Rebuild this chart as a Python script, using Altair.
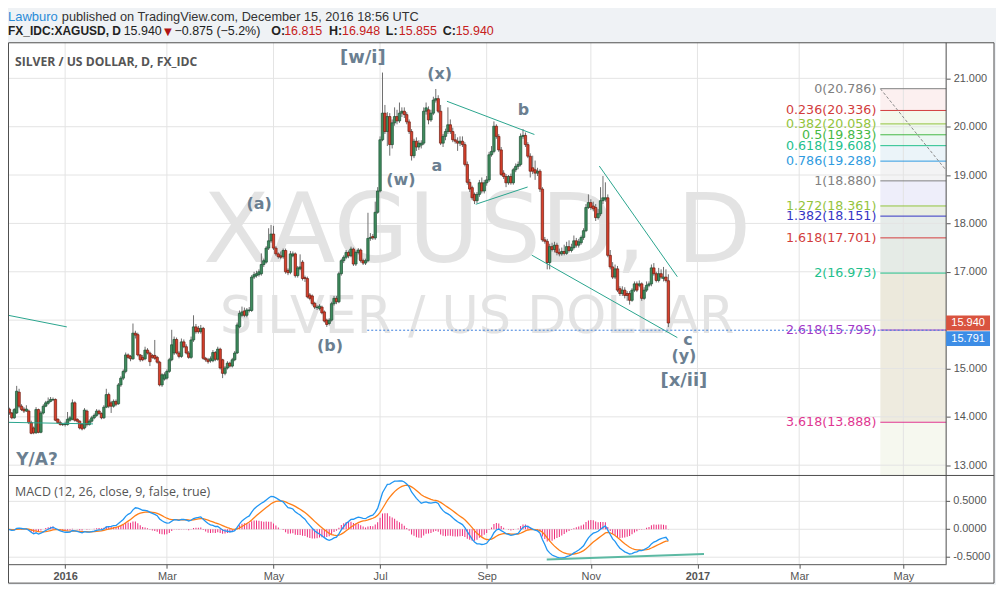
import altair as alt
import pandas as pd

# ---------------- data ----------------
START_INDEX = -24  # bar index of first candle (0 = first trading day of 2016)

opens = [14.07,14.16,14.08,13.98,14.08,14.51,14.22,14.16,14.12,14.12,
         13.88,13.77,13.67,14.15,13.68,14.08,14.22,14.28,14.32,14.35,
         14.36,13.95,13.88,13.84,13.84,13.84,13.93,13.95,14.29,13.95,
         13.91,13.84,13.77,14.12,13.84,13.91,13.98,14.03,14.12,14.07,
         13.98,14.20,14.46,14.29,14.22,14.32,14.27,14.66,14.80,14.94,
         15.28,15.25,15.20,15.73,15.70,15.28,15.23,15.20,15.38,15.32,
         15.27,15.27,15.23,15.13,14.66,14.78,14.80,14.94,15.18,15.32,
         15.60,15.32,15.25,15.55,15.45,15.32,15.23,15.59,15.86,15.83,
         15.76,15.83,15.21,15.18,15.16,15.16,15.33,15.19,15.40,15.18,
         14.90,15.01,15.11,15.05,15.18,15.32,15.86,16.10,16.19,16.10,
         16.20,16.20,16.89,16.92,16.94,16.96,17.15,17.20,17.49,17.64,
         17.78,17.49,17.37,17.33,17.31,17.44,17.03,16.99,17.33,17.37,
         16.92,17.06,17.20,16.88,16.86,16.52,16.50,16.35,16.26,16.24,
         16.27,16.17,16.00,15.93,16.00,16.34,16.45,16.38,16.96,17.23,
         17.30,17.40,17.33,17.47,17.16,17.40,17.45,17.23,17.18,17.23,
         17.69,17.73,17.70,18.23,18.67,19.73,20.28,19.90,20.21,19.63,
         20.08,20.21,20.12,20.28,20.32,20.25,20.10,19.90,19.40,19.70,
         19.58,19.62,19.66,20.32,20.35,20.14,20.28,20.55,20.58,20.32,
         19.66,19.80,19.90,20.04,19.90,19.73,19.70,19.66,19.70,19.63,
         19.22,18.85,18.74,18.60,18.47,18.60,18.84,18.67,18.84,18.90,
         19.42,19.49,20.01,19.80,19.52,19.04,18.97,18.84,18.97,18.84,
         19.11,19.18,19.22,19.80,19.82,19.63,19.39,19.15,19.11,19.04,
         19.08,18.71,17.66,17.63,17.19,17.52,17.46,17.55,17.40,17.37,
         17.42,17.38,17.52,17.44,17.50,17.64,17.55,17.60,17.71,17.85,
         18.33,18.43,18.36,18.33,18.12,18.20,18.47,18.50,18.53,17.34,
         17.10,16.89,17.06,16.65,16.55,16.62,16.55,16.55,16.41,16.62,
         16.75,16.72,16.75,16.45,16.62,16.72,16.75,17.08,16.96,16.82,
         16.96,16.86,16.89,16.815]
highs = [14.22,14.19,14.10,14.18,14.64,14.58,14.26,14.20,14.24,14.15,
         13.92,13.80,14.20,14.17,14.12,14.26,14.33,14.40,14.41,14.40,
         14.38,13.97,13.92,13.87,13.90,14.10,14.02,14.36,14.32,13.97,
         13.93,13.87,14.18,14.15,13.95,14.02,14.07,14.16,14.15,14.09,
         14.24,14.58,14.50,14.33,14.36,14.36,14.70,14.84,14.98,15.33,
         15.31,15.28,15.93,15.78,15.74,15.30,15.28,15.45,15.42,15.35,
         15.30,15.59,15.26,15.16,14.90,14.92,14.98,15.22,15.80,15.66,
         15.64,15.36,15.62,15.60,15.50,15.36,15.66,16.10,15.92,15.88,
         15.90,15.86,15.24,15.22,15.25,15.38,15.36,15.45,15.43,15.20,
         15.05,15.15,15.14,15.22,15.36,15.95,16.20,16.28,16.26,16.25,
         16.27,16.93,17.00,17.02,17.05,17.38,17.27,17.53,17.90,17.97,
         17.95,17.53,17.40,17.42,17.48,17.48,17.07,17.43,17.42,17.40,
         17.12,17.36,17.24,16.92,16.90,16.56,16.53,16.38,16.31,16.33,
         16.30,16.20,16.03,16.04,16.38,16.50,16.50,17.00,17.27,17.34,
         17.45,17.44,17.52,17.50,17.44,17.49,17.48,17.27,17.27,18.22,
         17.80,17.78,18.45,18.75,19.80,21.12,20.45,20.30,20.28,20.15,
         20.40,20.35,20.50,20.40,20.40,20.30,20.15,19.95,19.75,19.78,
         19.72,19.72,20.40,20.50,20.42,20.35,20.62,20.78,20.65,20.45,
         19.85,19.96,20.40,20.15,19.98,19.85,19.78,19.80,19.80,19.68,
         19.28,18.92,18.78,18.64,18.65,18.90,18.95,18.90,18.98,19.48,
         19.60,20.11,20.05,19.85,19.58,19.10,19.02,19.00,19.03,19.15,
         19.24,19.28,19.86,19.95,19.88,19.68,19.45,19.40,19.30,19.15,
         19.12,18.75,17.72,17.68,17.58,17.60,17.62,17.60,17.48,17.50,
         17.56,17.62,17.65,17.58,17.75,17.70,17.68,17.75,17.90,18.40,
         18.60,18.50,18.45,18.40,18.30,18.75,18.98,18.85,18.60,17.45,
         17.20,17.15,17.12,16.70,16.70,16.68,16.60,16.60,16.66,16.80,
         16.80,16.82,16.78,16.68,16.80,16.80,17.15,17.18,17.00,17.08,
         17.05,17.10,17.05,16.948]
lows = [14.03,14.04,13.95,13.96,14.06,14.18,14.12,14.08,14.10,13.85,
        13.64,13.64,13.65,13.66,13.66,14.05,14.20,14.25,14.30,14.33,
        13.91,13.86,13.82,13.81,13.80,13.82,13.90,13.93,13.90,13.88,
        13.74,13.72,13.74,13.80,13.82,13.88,13.95,14.00,14.04,13.95,
        13.96,14.18,14.18,14.08,14.19,14.22,14.25,14.62,14.76,14.90,
        15.20,15.15,15.18,15.62,15.25,15.14,15.15,15.17,15.29,15.05,
        15.20,15.18,15.10,14.63,14.62,14.75,14.77,14.91,15.15,15.28,
        15.29,15.21,15.22,15.42,15.29,15.20,15.20,15.55,15.72,15.72,
        15.72,15.18,15.14,15.10,15.12,15.13,15.15,15.16,14.98,14.80,
        14.86,14.98,15.02,15.02,15.15,15.30,15.83,16.07,16.06,16.06,
        16.16,16.17,16.85,16.88,16.90,16.92,17.10,17.17,17.45,17.60,
        17.45,17.33,17.27,17.26,17.27,16.96,16.93,16.95,17.30,16.88,
        16.88,17.03,16.82,16.79,16.45,16.41,16.30,16.23,16.21,16.20,
        16.12,15.95,15.86,15.89,15.97,16.30,16.33,16.35,16.92,17.18,
        17.26,17.28,17.30,17.12,17.12,17.36,17.19,17.14,17.14,17.20,
        17.64,17.66,17.66,18.20,18.64,19.70,19.85,19.60,19.40,19.55,
        20.02,20.05,20.08,20.20,20.18,20.05,19.85,19.30,19.35,19.50,
        19.52,19.55,19.62,20.25,20.05,20.10,20.24,20.50,20.28,19.62,
        19.58,19.72,19.85,19.85,19.68,19.65,19.50,19.60,19.58,19.18,
        18.80,18.65,18.48,18.40,18.42,18.55,18.62,18.62,18.78,18.86,
        19.38,19.45,19.75,19.48,18.98,18.92,18.75,18.80,18.80,18.80,
        19.06,19.12,19.18,19.75,19.58,19.35,18.95,19.02,18.90,18.98,
        18.65,17.62,17.58,17.05,17.05,17.42,17.40,17.34,17.32,17.33,
        17.34,17.35,17.40,17.40,17.46,17.50,17.50,17.56,17.66,17.82,
        18.30,18.28,18.25,18.05,18.08,18.15,18.40,18.45,17.30,17.05,
        16.85,16.85,16.58,16.50,16.50,16.45,16.40,16.32,16.38,16.58,
        16.58,16.68,16.40,16.42,16.58,16.68,16.70,16.92,16.78,16.78,
        16.85,16.80,16.78,15.855]
closes = [14.16,14.08,13.98,14.15,14.53,14.22,14.15,14.12,14.16,13.88,
          13.66,13.67,14.15,13.68,14.08,14.22,14.29,14.32,14.36,14.36,
          13.93,13.88,13.84,13.84,13.85,13.95,13.98,14.29,13.93,13.91,
          13.77,13.75,14.14,13.84,13.91,13.98,14.03,14.12,14.07,13.98,
          14.20,14.46,14.22,14.22,14.32,14.26,14.66,14.80,14.94,15.28,
          15.23,15.20,15.73,15.69,15.28,15.18,15.18,15.38,15.32,15.14,
          15.23,15.21,15.13,14.66,14.87,14.87,14.94,15.18,15.49,15.60,
          15.32,15.25,15.55,15.45,15.32,15.23,15.59,15.86,15.76,15.76,
          15.83,15.21,15.18,15.14,15.20,15.33,15.19,15.40,15.01,14.90,
          15.01,15.11,15.05,15.18,15.32,15.90,16.14,16.17,16.10,16.21,
          16.21,16.89,16.94,16.96,17.00,17.15,17.23,17.49,17.64,17.78,
          17.49,17.37,17.31,17.30,17.44,17.00,16.98,17.37,17.37,16.92,
          17.08,17.10,16.86,16.86,16.48,16.45,16.34,16.27,16.27,16.29,
          16.15,15.98,15.91,16.00,16.34,16.45,16.38,16.96,17.23,17.30,
          17.40,17.33,17.47,17.16,17.40,17.45,17.23,17.18,17.23,17.69,
          17.71,17.70,18.23,18.67,19.73,20.28,19.90,20.21,19.63,20.08,
          20.21,20.12,20.28,20.32,20.25,20.10,19.90,19.40,19.70,19.58,
          19.66,19.66,20.32,20.39,20.14,20.28,20.55,20.58,20.32,19.66,
          19.80,19.90,20.04,19.90,19.73,19.70,19.66,19.70,19.63,19.22,
          18.85,18.71,18.53,18.47,18.60,18.84,18.67,18.84,18.90,19.42,
          19.49,20.01,19.80,19.52,19.01,18.97,18.84,18.97,18.84,19.11,
          19.18,19.22,19.80,19.82,19.63,19.39,19.08,19.08,19.04,19.08,
          18.71,17.66,17.63,17.19,17.52,17.46,17.55,17.40,17.37,17.42,
          17.38,17.52,17.44,17.50,17.64,17.55,17.62,17.71,17.85,18.33,
          18.43,18.33,18.30,18.12,18.20,18.47,18.53,18.53,17.34,17.10,
          16.89,17.06,16.62,16.55,16.62,16.51,16.51,16.41,16.62,16.75,
          16.62,16.75,16.45,16.62,16.72,16.75,17.08,16.96,16.82,16.96,
          16.89,16.89,16.82,15.940]

# time axis (bar index of each month start) and labels
month_ticks = [0, 42, 86, 130, 174, 217, 261, 303, 346]
month_labels = ["2016", "Mar", "May", "Jul", "Sep", "Nov", "2017", "Mar", "May"]

price_ticks = [13, 14, 15, 17, 18, 19, 20, 21]
price_grid = [13, 14, 15, 16, 17, 18, 19, 20, 21]
macd_ticks = [0.5, 0.0, -0.5]
macd_tick_labels = ["0.5000", "0.0000", "-0.5000"]

# fibonacci extension tool
fib_ratios = ["0", "0.236", "0.382", "0.5", "0.618", "0.786", "1",
              "1.272", "1.382", "1.618", "2", "2.618", "3.618"]
fib_values = [20.786, 20.336, 20.058, 19.833, 19.608, 19.288, 18.880,
              18.361, 18.151, 17.701, 16.973, 15.795, 13.888]
fib_colors = ["#808080", "#d23c3c", "#93c43c", "#45b845", "#22c08c", "#2f9be0", "#808080",
              "#93c43c", "#3434c4", "#d23c3c", "#22c08c", "#a338c8", "#e03590"]
fib_fills = ["#fcf0f0", "#f4f8ec", "#eef8ee", "#ebf7f3", "#ebf4f9", "#f3f3f4", "#eeeefa",
             "#e9eee3", "#e6ecea", "#e5ebe6", "#ece9dc", "#eeebdf", "#f6f8ef"]
fib_x = [336.5, 363.66]
fib_diag_i = [336.5, 363.66]
fib_diag_p = [20.786, 19.097]

# trend lines (bar index, price)
trend_seg = ["l1", "l1", "l2", "l2", "t1", "t1", "t2", "t2", "w1", "w1", "w2", "w2"]
trend_i = [-24.5, 0.7, -24.5, 11.5, 157.6, 193.7, 169.5, 190.9, 220.5, 252.7, 192.6, 252.7]
trend_p = [16.11, 15.86, 13.887, 13.854, 20.526, 19.839, 18.396, 18.753, 19.186, 16.897, 17.344, 15.639]
macd_trend_i = [198.8, 263.7]
macd_trend_v = [-0.541, -0.441]

hline_value = 15.791
hline_i = [124.7, 363.66]

# wave labels
wave_text = ["[w/i]", "(x)", "b", "a", "(w)", "(a)", "(b)", "c", "(y)", "[x/ii]", "Y/A?"]
wave_i = [122.9, 154.6, 189.2, 153.4, 138.6, 80.1, 109.3, 257.1, 255.4, 255.4, -11.6]
wave_p = [21.43, 21.10, 20.355, 19.18, 18.89, 18.40, 15.468, 15.59, 15.262, 14.746, 13.097]
wave_size = [18, 16, 16, 16, 16, 16, 16, 16, 16, 18, 17]

# ---------------- frames ----------------
n = len(closes)
df = pd.DataFrame({"i": list(range(START_INDEX, START_INDEX + n)),
                   "o": opens, "h": highs, "l": lows, "c": closes})
df["up"] = df["c"] >= df["o"]
df["top"] = df[["o", "c"]].max(axis=1)
df["bot"] = df[["o", "c"]].min(axis=1)
ema12 = df["c"].ewm(span=12, adjust=False).mean()
ema26 = df["c"].ewm(span=26, adjust=False).mean()
df["macd"] = ema12 - ema26
df["sig"] = df["macd"].ewm(span=9, adjust=False).mean()
df["hist"] = df["macd"] - df["sig"]

W, H = 941, 557
XS = alt.Scale(domain=[-23.58, 363.66], range=[0, W], nice=False, zero=False, padding=0)
P_DOM = [12.798, 21.742]
PS = alt.Scale(domain=P_DOM, range=[467.5, 33.7], nice=False, zero=False, padding=0)
MS = alt.Scale(domain=[-0.625, 0.955], range=[557, 468.5], nice=False, zero=False, padding=0)

lab_expr = "".join([f"datum.value == {t} ? '{l}' : " for t, l in zip(month_ticks, month_labels)]) + "''"
XAXIS = alt.Axis(values=month_ticks, labelExpr=lab_expr, orient="bottom",
                 labelFont="Liberation Sans", labelFontSize=11, labelColor="#555555",
                 labelFontWeight={"condition": {"test": "datum.value == 0 || datum.value == 261",
                                                "value": "bold"}, "value": "normal"},
                 tickColor="#555555", tickSize=4, labelPadding=2, domainColor="#555555",
                 grid=False, zindex=1, title=None)


def X(f):
    return alt.X(f, type="quantitative", scale=XS, axis=XAXIS)


def P(f):
    return alt.Y(f, type="quantitative", scale=PS, axis=None)


def M(f):
    return alt.Y(f, type="quantitative", scale=MS, axis=None)


def txt(s, x, y, size=12, color="#333333", weight="normal", font="Liberation Sans",
        align="left", baseline="alphabetic"):
    return alt.Chart(pd.DataFrame({"t": [s]})).mark_text(
        align=align, baseline=baseline, fontSize=size, font=font,
        fontWeight=weight, color=color
    ).encode(x=alt.value(x), y=alt.value(y), text="t:N")


one = pd.DataFrame({"k": [0]})
layers = []

# panel background
layers.append(alt.Chart(one).mark_rect(fill="white").encode(
    x=alt.value(0), x2=alt.value(989), y=alt.value(33.7), y2=alt.value(576)))

# fib fills
fill_df = pd.DataFrame({
    "x0": [fib_x[0]] * len(fib_values), "x1": [fib_x[1]] * len(fib_values),
    "top": fib_values, "bot": fib_values[1:] + [P_DOM[0]], "col": fib_fills})
layers.append(alt.Chart(fill_df).mark_rect().encode(
    x=X("x0"), x2="x1", y=P("top"), y2="bot",
    color=alt.Color("col:N", scale=None)))

# grid lines
vgrid = pd.DataFrame({"i": month_ticks})
layers.append(alt.Chart(vgrid).mark_rule(color="#e4e4e4", strokeWidth=1).encode(
    x=X("i"), y=alt.value(34), y2=alt.value(557)))
pgrid = pd.DataFrame({"p": price_grid})
layers.append(alt.Chart(pgrid).mark_rule(color="#e4e4e4", strokeWidth=1).encode(
    y=alt.Y("p", type="quantitative", scale=PS, title=None,
            axis=alt.Axis(orient="right", values=price_ticks, format=".3f",
                          labelFont="Liberation Sans", labelFontSize=11, labelColor="#555555",
                          tickColor="#555555", tickSize=4, labelPadding=3, domain=False,
                          grid=False, zindex=1)),
    x=alt.value(0), x2=alt.value(W)))
mgrid = pd.DataFrame({"v": macd_ticks, "t": macd_tick_labels})
layers.append(alt.Chart(mgrid).mark_rule(color="#e4e4e4", strokeWidth=1).encode(
    y=M("v"), x=alt.value(0), x2=alt.value(W)))

# watermark
layers.append(txt("XAGUSD, D", 470.5, 253.7, size=97, color="#e3e3e3", font="DejaVu Sans", align="center"))
layers.append(txt("SILVER / US DOLLAR", 470.5, 325.3, size=51, color="#e3e3e3", font="DejaVu Sans", align="center"))

# MACD
layers.append(alt.Chart(df).mark_bar(size=1, color="#ee2a7b").encode(
    x=X("i"), y=M("hist"), y2=alt.datum(0)))
layers.append(alt.Chart(df).mark_line(color="#ff7f17", strokeWidth=1.3).encode(x=X("i"), y=M("sig")))
layers.append(alt.Chart(df).mark_line(color="#2196f3", strokeWidth=1.3).encode(x=X("i"), y=M("macd")))
mt = pd.DataFrame({"i": macd_trend_i, "v": macd_trend_v})
layers.append(alt.Chart(mt).mark_line(color="#5cb9a3", strokeWidth=2).encode(x=X("i"), y=M("v")))

# candles
layers.append(alt.Chart(df).mark_rule(color="#6e6e6e", strokeWidth=1).encode(
    x=X("i"), y=P("l"), y2="h"))
layers.append(alt.Chart(df).mark_bar(size=2.4, strokeWidth=0.7).encode(
    x=X("i"), y=P("bot"), y2="top",
    fill=alt.condition("datum.up", alt.value("#3f8c5e"), alt.value("#d8402c")),
    stroke=alt.condition("datum.up", alt.value("#1c4f32"), alt.value("#6e1d12"))))

# trend lines
tl = pd.DataFrame({"seg": trend_seg, "i": trend_i, "p": trend_p})
layers.append(alt.Chart(tl).mark_line(color="#2aa58e", strokeWidth=1).encode(
    x=X("i"), y=P("p"), detail="seg:N"))

# fib lines & labels
fl = pd.DataFrame({"x0": [fib_x[0]] * len(fib_values), "x1": [fib_x[1]] * len(fib_values),
                   "v": fib_values, "col": fib_colors,
                   "lab": [f"{r}({v:.3f})" for r, v in zip(fib_ratios, fib_values)]})
layers.append(alt.Chart(fl).mark_rule(strokeWidth=1).encode(
    x=X("x0"), x2="x1", y=P("v"), color=alt.Color("col:N", scale=None)))
layers.append(alt.Chart(fl).mark_text(align="right", baseline="middle", dx=-4, fontSize=12.7,
                                      font="DejaVu Sans").encode(
    x=X("x0"), y=P("v"), text="lab:N", color=alt.Color("col:N", scale=None)))
fd = pd.DataFrame({"i": fib_diag_i, "p": fib_diag_p})
layers.append(alt.Chart(fd).mark_line(color="#8a8a8a", strokeWidth=1, strokeDash=[3, 2]).encode(
    x=X("i"), y=P("p")))

# horizontal dotted line
hl = pd.DataFrame({"i": hline_i, "p": [hline_value, hline_value]})
layers.append(alt.Chart(hl).mark_line(color="#3b7ddd", strokeWidth=1, strokeDash=[2, 2]).encode(
    x=X("i"), y=P("p")))

# wave labels
wl = pd.DataFrame({"t": wave_text, "i": wave_i, "p": wave_p, "s": wave_size})
layers.append(alt.Chart(wl).mark_text(font="DejaVu Sans", fontWeight="bold", color="#6b7f91",
                                      baseline="middle", align="center").encode(
    x=X("i"), y=P("p"), text="t:N", size=alt.Size("s:Q", scale=None)))

# frame lines
layers.append(alt.Chart(one).mark_rule(color="#4d4d4d", strokeWidth=1).encode(
    x=alt.value(941), y=alt.value(34), y2=alt.value(557)))
layers.append(alt.Chart(one).mark_rule(color="#4d4d4d", strokeWidth=1).encode(
    x=alt.value(0), x2=alt.value(989), y=alt.value(468)))

# last price / line price boxes on the axis
box_shape = "M-1,-0.341L1,-0.341L1,0.341L-1,0.341Z"
bx = pd.DataFrame({"p": [closes[-1]], "t": [f"{closes[-1]:.3f}"]})
layers.append(alt.Chart(bx).mark_point(shape=box_shape, size=1936, filled=True, opacity=1,
                                       color="#d9533f").encode(x=alt.value(963), y=P("p")))
layers.append(alt.Chart(bx).mark_text(color="white", fontSize=11, font="Liberation Sans",
                                      baseline="middle").encode(x=alt.value(963), y=P("p"), text="t:N"))
hb = pd.DataFrame({"p": [hline_value], "t": [f"{hline_value:.3f}"]})
layers.append(alt.Chart(hb).mark_point(shape=box_shape, size=1936, filled=True, opacity=1,
                                       color="#3d8de6", yOffset=8.4).encode(x=alt.value(963), y=P("p")))
layers.append(alt.Chart(hb).mark_text(color="white", fontSize=11, font="Liberation Sans",
                                      baseline="middle", yOffset=8.4).encode(
    x=alt.value(963), y=P("p"), text="t:N"))

# MACD axis labels and ticks
layers.append(alt.Chart(mgrid).mark_rule(color="#555555").encode(
    y=M("v"), x=alt.value(941), x2=alt.value(945)))
layers.append(alt.Chart(mgrid).mark_text(align="left", baseline="middle", fontSize=11,
                                         font="Liberation Sans", color="#555555").encode(
    y=M("v"), x=alt.value(948), text="t:N"))

# legends inside panels
layers.append(txt("SILVER / US DOLLAR, D, FX_IDC", 7, 57, size=12.2, color="#555555",
                  weight="bold", font="Open Sans"))
layers.append(txt("MACD (12, 26, close, 9, false, true)", 7, 488.5, size=12.5, color="#555555",
                  font="Open Sans"))

# header
layers.append(txt("Lawburo", 0, 12, size=13, color="#2a8bd8", font="Liberation Sans"))
layers.append(txt("published on TradingView.com, December 15, 2016 18:56 UTC", 54, 12, size=12.8,
                  color="#333333", font="Liberation Sans"))
layers.append(txt("FX_IDC:XAGUSD, D", 0, 26.5, size=12, color="#222222", weight="bold"))
layers.append(txt("15.940", 116, 26.5, size=12.5, color="#222222"))
layers.append(txt("\u25bc", 154, 27, size=13, color="#b01414"))
layers.append(txt("\u22120.875 (\u22125.2%)", 167, 26.5, size=12.5, color="#222222"))
for lab, val, xl, xv in [("O:", "16.815", 264, 277), ("H:", "16.948", 322, 335),
                         ("L:", "15.855", 379, 392), ("C:", "15.940", 436, 449)]:
    layers.append(txt(lab, xl, 26.5, size=12.5, color="#222222", weight="bold"))
    layers.append(txt(val, xv, 26.5, size=12.5, color="#c62020"))

# outer border
layers.append(alt.Chart(one).mark_rect(fillOpacity=0, stroke="#4d4d4d", strokeWidth=1).encode(
    x=alt.value(0.5), x2=alt.value(989), y=alt.value(34), y2=alt.value(576)))

chart = alt.layer(*layers).resolve_scale(y="independent").properties(
    width=W, height=H,
    padding={"left": 0, "top": 0, "right": 50, "bottom": 20},
    autosize=alt.AutoSizeParams(type="none"),
    background="#eff2f5",
).configure_view(stroke=None)

chart.save("out.html", embed_options={"renderer": "svg", "actions": False})
